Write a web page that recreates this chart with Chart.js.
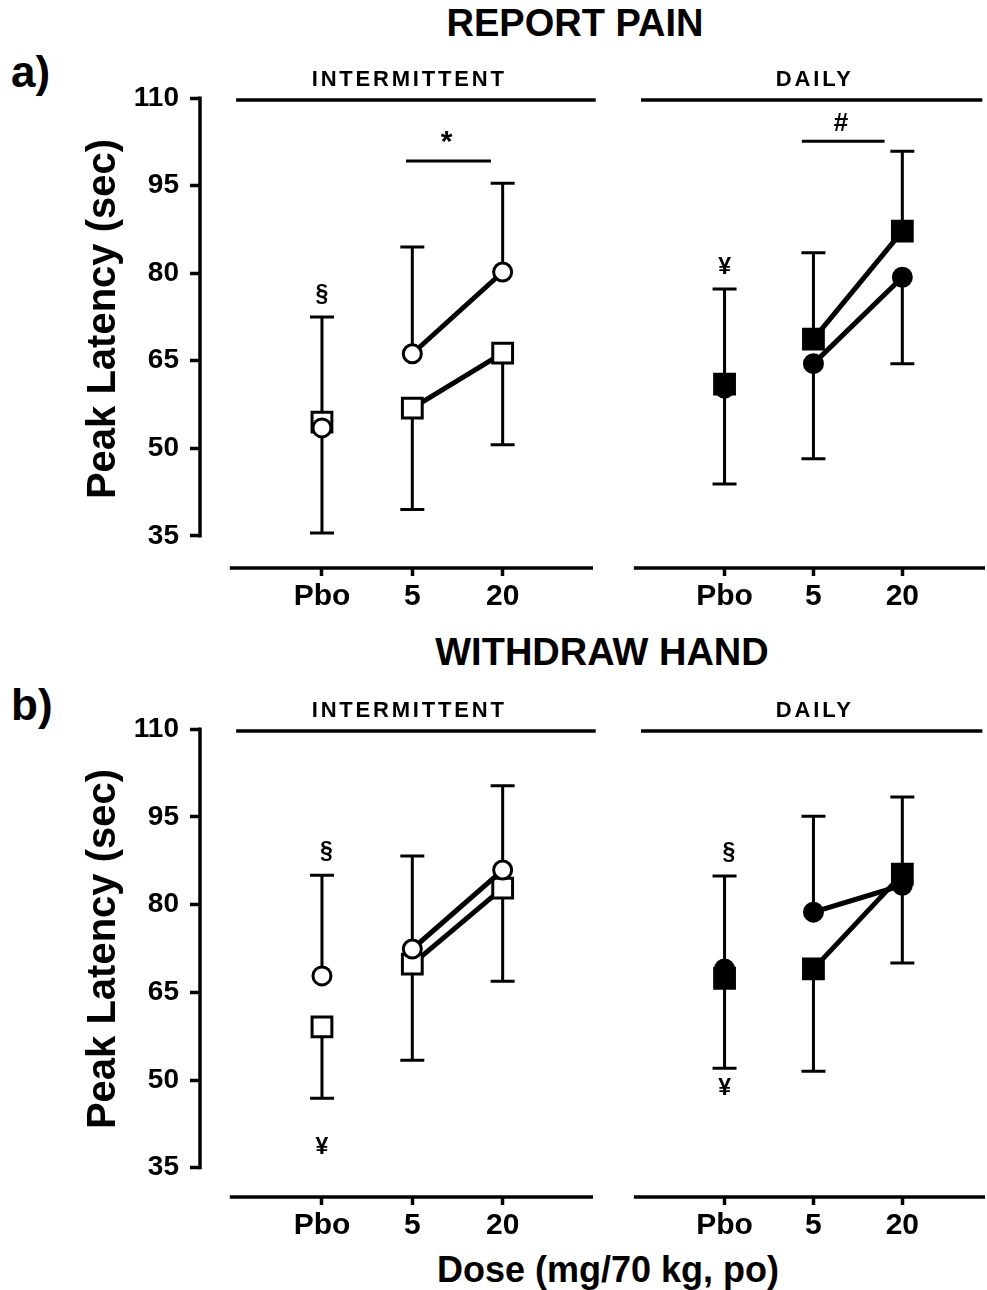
<!DOCTYPE html>
<html>
<head>
<meta charset="utf-8">
<script src="https://cdn.jsdelivr.net/npm/chart.js@4.4.1/dist/chart.umd.min.js"></script>
<style>
  html, body { margin: 0; padding: 0; background: #fff; overflow: hidden; }
  #fig { position: relative; width: 987px; height: 1290px; overflow: hidden; font-family: "Liberation Sans", Arial, sans-serif; font-weight: bold; color: #000; }
  #fig canvas { position: absolute; }
  .lbl { position: absolute; white-space: nowrap; line-height: 1; }
  .ctr { transform: translateX(-50%); }
</style>
</head>
<body>
<div id="fig">
  <div class="lbl ctr" style="left:575px;top:4px;font-size:38px">REPORT PAIN</div>
  <div class="lbl" style="left:11px;top:50px;font-size:44px">a)</div>
  <div class="lbl ctr" style="left:602px;top:633px;font-size:38px">WITHDRAW HAND</div>
  <div class="lbl" style="left:11px;top:683px;font-size:44px">b)</div>
  <div class="lbl ctr" style="left:608px;top:1252px;font-size:36px">Dose (mg/70 kg, po)</div>

  <canvas id="painInt" width="613" height="578" style="left:0;top:40px"></canvas>
  <canvas id="painDaily" width="415" height="578" style="left:595px;top:40px"></canvas>
  <canvas id="handInt" width="613" height="576" style="left:0;top:671px"></canvas>
  <canvas id="handDaily" width="415" height="576" style="left:595px;top:671px"></canvas>
</div>

<script>
// dose levels + y ticks
const doses = ['Pbo', '5', '20'];
const yTicks = [35, 50, 65, 80, 95, 110];

// a) report pain — means and error bar ends (sec)
const painIntCircle = [53.5, 66.2, 80.2];
const painIntSquare = [54.5, 56.9, 66.3];
const painIntCircleHi = [72.5, 84.5, 95.4];
const painIntSquareLo = [35.5, 39.5, 50.6];

const painDailyCircle = [60.3, 64.5, 79.3];
const painDailySquare = [61.0, 68.7, 87.2];
const painDailySquareHi = [77.3, 83.5, 100.9];
const painDailyCircleLo = [43.9, 48.2, 64.5];

// b) withdraw hand
const handIntCircle = [67.8, 72.4, 85.9];
const handIntSquare = [59.1, 69.8, 82.8];
const handIntCircleHi = [85.0, 88.3, 100.3];
const handIntSquareLo = [46.9, 53.4, 66.9];

const handDailyCircle = [69.0, 78.7, 83.3];
const handDailySquare = [67.4, 69.0, 85.2];
const handDailyCircleHi = [84.9, 95.1, 98.4];
const handDailySquareLo = [52.0, 51.5, 70.0];

// significance symbols [dose position, value, glyph]
const painIntMarks = [[0, 76.3, '§'], [1.38, 103.4, '*']];
const painDailyMarks = [[0, 80.9, '¥'], [1.31, 105.6, '#']];
const handIntMarks = [[0.05, 89.1, '§'], [0, 38.4, '¥']];
const handDailyMarks = [[0.05, 88.8, '§'], [0, 48.6, '¥']];
// comparison bars [from, to, value]
const painIntBars = [[0.93, 1.87, 99.2]];
const painDailyBars = [[0.87, 1.80, 102.6]];

const FONT = '"Liberation Sans", Arial, sans-serif';

const pts = arr => arr.map((v, i) => ({ x: i, y: v }));

// axis lines, group header, error bars, stars
const panelDecor = {
  id: 'panelDecor',
  beforeDatasetsDraw(chart, args, o) {
    const { ctx, chartArea: a, scales: { x, y } } = chart;
    ctx.save();
    ctx.strokeStyle = '#000';
    ctx.fillStyle = '#000';

    // x axis line (offset from y axis like the original)
    ctx.lineWidth = 3.5;
    ctx.beginPath();
    ctx.moveTo(x.getPixelForValue(-1.02), a.bottom);
    ctx.lineTo(a.right, a.bottom);
    ctx.stroke();

    if (o.yAxis) {
      ctx.beginPath();
      ctx.moveTo(a.left, y.getPixelForValue(yTicks[0]) + 1.5);
      ctx.lineTo(a.left, y.getPixelForValue(yTicks[yTicks.length - 1]) - 1.5);
      ctx.stroke();
    }

    // group header line + label
    const hy = y.getPixelForValue(110) + 2;
    ctx.beginPath();
    ctx.moveTo(x.getPixelForValue(o.hdr[0]), hy);
    ctx.lineTo(x.getPixelForValue(o.hdr[1]), hy);
    ctx.stroke();
    ctx.font = 'bold 22px ' + FONT;
    ctx.letterSpacing = '2.8px';
    ctx.textAlign = 'center';
    ctx.textBaseline = 'middle';
    ctx.fillText(o.group, x.getPixelForValue(o.groupAt) + 1.4, hy - 20);
    ctx.letterSpacing = '0px';

    // error bars
    ctx.lineWidth = 3;
    o.errors.forEach(([from, ends]) => {
      ends.forEach((end, i) => {
        if (end == null) return;
        const px = x.getPixelForValue(i);
        const p0 = y.getPixelForValue(from[i]);
        const p1 = y.getPixelForValue(end);
        ctx.beginPath();
        ctx.moveTo(px, p0);
        ctx.lineTo(px, p1);
        ctx.moveTo(px - 12, p1);
        ctx.lineTo(px + 12, p1);
        ctx.stroke();
      });
    });

    // comparison bars
    (o.bars || []).forEach(([x0, x1, v]) => {
      ctx.beginPath();
      ctx.moveTo(x.getPixelForValue(x0), y.getPixelForValue(v));
      ctx.lineTo(x.getPixelForValue(x1), y.getPixelForValue(v));
      ctx.stroke();
    });

    // symbols
    o.marks.forEach(([mx, my, t]) => {
      const big = t === '*' ? 30 : t === '#' ? 26 : 23;
      ctx.font = 'bold ' + big + 'px ' + FONT;
      ctx.fillText(t, x.getPixelForValue(mx), y.getPixelForValue(my) + (t === '*' ? 6 : 0));
    });
    ctx.restore();
  }
};

function series(data, shape, filled) {
  return {
    data: pts(data),
    borderColor: '#000',
    borderWidth: 5,
    pointStyle: shape,
    pointRadius: shape === 'rect' ? 14 : 9,
    pointBorderWidth: 3,
    pointBorderColor: '#000',
    pointBackgroundColor: filled ? '#000' : '#fff',
    tension: 0,
    // Pbo is not joined to the dose line
    segment: { borderColor: c => c.p0DataIndex === 0 ? 'rgba(0,0,0,0)' : '#000' }
  };
}

function makePanel(id, cfg) {
  const withY = cfg.yAxis;
  new Chart(document.getElementById(id), {
    type: 'line',
    data: {
      datasets: [
        series(cfg.circle, 'circle', cfg.filled),
        series(cfg.square, 'rect', cfg.filled)
      ]
    },
    options: {
      responsive: false,
      animation: false,
      devicePixelRatio: 1,
      layout: { padding: { top: 30, right: cfg.padRight, left: cfg.padLeft, bottom: 0 } },
      plugins: {
        legend: { display: false },
        tooltip: { enabled: false },
        panelDecor: cfg
      },
      scales: {
        x: {
          type: 'linear',
          min: cfg.xMin,
          max: cfg.xMax,
          afterBuildTicks: s => { s.ticks = doses.map((d, i) => ({ value: i })); },
          afterFit: s => { s.height = 50; },
          border: { display: false },
          grid: { drawOnChartArea: false, drawTicks: true, tickLength: 8, tickWidth: 3.5, color: '#000' },
          ticks: {
            color: '#000',
            padding: 3,
            font: { family: FONT, size: 30, weight: 'bold' },
            callback: v => doses[v]
          }
        },
        y: {
          display: withY,
          min: cfg.yMin,
          max: cfg.yMax,
          afterBuildTicks: s => { s.ticks = yTicks.map(v => ({ value: v })); },
          afterFit: s => { s.width = withY ? 200 : 0; },
          border: { display: false },
          grid: { drawOnChartArea: false, drawTicks: true, tickLength: 10, tickWidth: 3.5, color: '#000' },
          ticks: {
            color: '#000',
            padding: 11,
            font: { family: FONT, size: 28, weight: 'bold' }
          },
          title: {
            display: true,
            text: 'Peak Latency (sec)',
            color: '#000',
            padding: { top: 80, bottom: 0 },
            font: { family: FONT, size: 40, weight: 'bold' }
          }
        }
      }
    },
    plugins: [panelDecor]
  });
}

makePanel('painInt', {
  yAxis: true, group: 'INTERMITTENT', groupAt: 0.95, filled: false,
  xMin: -1.35, xMax: 3.0, padLeft: 0, padRight: 20, yMin: 29.5, yMax: 114.8, hdr: [-0.95, 3.03],
  circle: painIntCircle, square: painIntSquare,
  errors: [[painIntCircle, painIntCircleHi], [painIntSquare, painIntSquareLo]],
  marks: painIntMarks, bars: painIntBars
});
makePanel('painDaily', {
  yAxis: false, group: 'DAILY', groupAt: 1.0, filled: true,
  xMin: -1.03, xMax: 2.93, padLeft: 38, padRight: 25, yMin: 29.5, yMax: 114.8, hdr: [-0.94, 2.90],
  circle: painDailyCircle, square: painDailySquare,
  errors: [[painDailySquare, painDailySquareHi], [painDailyCircle, painDailyCircleLo]],
  marks: painDailyMarks, bars: painDailyBars
});
makePanel('handInt', {
  yAxis: true, group: 'INTERMITTENT', groupAt: 0.95, filled: false,
  xMin: -1.35, xMax: 3.0, padLeft: 0, padRight: 20, yMin: 30.0, yMax: 114.8, hdr: [-0.95, 3.03],
  circle: handIntCircle, square: handIntSquare,
  errors: [[handIntCircle, handIntCircleHi], [handIntSquare, handIntSquareLo]],
  marks: handIntMarks
});
makePanel('handDaily', {
  yAxis: false, group: 'DAILY', groupAt: 1.0, filled: true,
  xMin: -1.03, xMax: 2.93, padLeft: 38, padRight: 25, yMin: 30.0, yMax: 114.8, hdr: [-0.94, 2.90],
  circle: handDailyCircle, square: handDailySquare,
  errors: [[handDailyCircle, handDailyCircleHi], [handDailySquare, handDailySquareLo]],
  marks: handDailyMarks
});
</script>
</body>
</html>
